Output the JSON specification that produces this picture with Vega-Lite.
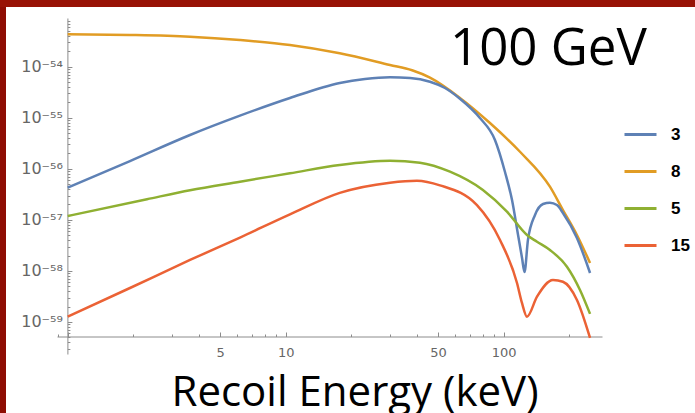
{
  "$schema": "https://vega.github.io/schema/vega-lite/v6.json",
  "background": "white",
  "padding": 0,
  "spacing": 0,
  "bounds": "flush",
  "config": {"view": {"stroke": null}},
  "datasets": {
    "curves": [
      {"E": 1, "rate": 4.31e-54, "m": "8"},
      {"E": 1.93, "rate": 4.18e-54, "m": "8"},
      {"E": 3.64, "rate": 3.87e-54, "m": "8"},
      {"E": 6.17, "rate": 3.33e-54, "m": "8"},
      {"E": 10.46, "rate": 2.66e-54, "m": "8"},
      {"E": 17.7, "rate": 1.83e-54, "m": "8"},
      {"E": 30.1, "rate": 1.08e-54, "m": "8"},
      {"E": 38.0, "rate": 8.5e-55, "m": "8"},
      {"E": 45.9, "rate": 6.1e-55, "m": "8"},
      {"E": 63.0, "rate": 2.45e-55, "m": "8"},
      {"E": 86.5, "rate": 7.89e-56, "m": "8"},
      {"E": 118.8, "rate": 2.16e-56, "m": "8"},
      {"E": 163, "rate": 4.47e-57, "m": "8"},
      {"E": 187, "rate": 1.56e-57, "m": "8"},
      {"E": 216.8, "rate": 5.06e-58, "m": "8"},
      {"E": 249, "rate": 1.43e-58, "m": "8"},

      {"E": 1, "rate": 4.27e-57, "m": "3"},
      {"E": 1.93, "rate": 1.42e-56, "m": "3"},
      {"E": 3.64, "rate": 4.60e-56, "m": "3"},
      {"E": 6.17, "rate": 1.10e-55, "m": "3"},
      {"E": 10.46, "rate": 2.44e-55, "m": "3"},
      {"E": 17.7, "rate": 4.80e-55, "m": "3"},
      {"E": 23.1, "rate": 5.74e-55, "m": "3"},
      {"E": 30.1, "rate": 6.20e-55, "m": "3"},
      {"E": 37.2, "rate": 6.01e-55, "m": "3"},
      {"E": 45.9, "rate": 5.08e-55, "m": "3"},
      {"E": 53.8, "rate": 3.83e-55, "m": "3"},
      {"E": 63.0, "rate": 2.36e-55, "m": "3"},
      {"E": 77.8, "rate": 9.89e-56, "m": "3"},
      {"E": 91.2, "rate": 3.67e-56, "m": "3"},
      {"E": 101.4, "rate": 8.67e-57, "m": "3"},
      {"E": 109.2, "rate": 2.45e-57, "m": "3"},
      {"E": 116.4, "rate": 5.05e-58, "m": "3"},
      {"E": 121.4, "rate": 1.79e-58, "m": "3"},
      {"E": 124.6, "rate": 9.5e-59, "m": "3"},
      {"E": 129.2, "rate": 4.04e-58, "m": "3"},
      {"E": 139.2, "rate": 1.25e-57, "m": "3"},
      {"E": 151.5, "rate": 2.05e-57, "m": "3"},
      {"E": 163, "rate": 2.17e-57, "m": "3"},
      {"E": 175.5, "rate": 1.95e-57, "m": "3"},
      {"E": 187, "rate": 1.36e-57, "m": "3"},
      {"E": 216.8, "rate": 4.42e-58, "m": "3"},
      {"E": 249, "rate": 9.12e-59, "m": "3"},

      {"E": 1, "rate": 1.19e-57, "m": "5"},
      {"E": 2.31, "rate": 2.54e-57, "m": "5"},
      {"E": 3.64, "rate": 3.81e-57, "m": "5"},
      {"E": 6.17, "rate": 5.60e-57, "m": "5"},
      {"E": 10.46, "rate": 8.17e-57, "m": "5"},
      {"E": 17.7, "rate": 1.19e-56, "m": "5"},
      {"E": 30.1, "rate": 1.44e-56, "m": "5"},
      {"E": 41.3, "rate": 1.32e-56, "m": "5"},
      {"E": 56.7, "rate": 8.79e-57, "m": "5"},
      {"E": 80.3, "rate": 3.85e-57, "m": "5"},
      {"E": 103.5, "rate": 1.45e-57, "m": "5"},
      {"E": 127.9, "rate": 5.06e-58, "m": "5"},
      {"E": 142.2, "rate": 3.73e-58, "m": "5"},
      {"E": 163, "rate": 2.57e-58, "m": "5"},
      {"E": 195.1, "rate": 1.21e-58, "m": "5"},
      {"E": 223.9, "rate": 4.24e-59, "m": "5"},
      {"E": 249, "rate": 1.44e-59, "m": "5"},

      {"E": 1, "rate": 1.27e-59, "m": "15"},
      {"E": 1.93, "rate": 4.63e-59, "m": "15"},
      {"E": 3.64, "rate": 1.64e-58, "m": "15"},
      {"E": 6.17, "rate": 4.5e-58, "m": "15"},
      {"E": 10.46, "rate": 1.28e-57, "m": "15"},
      {"E": 17.7, "rate": 3.38e-57, "m": "15"},
      {"E": 30.1, "rate": 5.35e-57, "m": "15"},
      {"E": 40.0, "rate": 5.85e-57, "m": "15"},
      {"E": 51.0, "rate": 4.75e-57, "m": "15"},
      {"E": 75.4, "rate": 1.95e-57, "m": "15"},
      {"E": 96.2, "rate": 4.04e-58, "m": "15"},
      {"E": 115.1, "rate": 5.81e-59, "m": "15"},
      {"E": 121.4, "rate": 2.33e-59, "m": "15"},
      {"E": 127.9, "rate": 1.27e-59, "m": "15"},
      {"E": 142.2, "rate": 3.13e-59, "m": "15"},
      {"E": 168.3, "rate": 6.65e-59, "m": "15"},
      {"E": 187, "rate": 6.15e-59, "m": "15"},
      {"E": 216.8, "rate": 2.70e-59, "m": "15"},
      {"E": 249, "rate": 4.86e-60, "m": "15"}
    ]
  },
  "vconcat": [
    {
      "width": 695, "height": 7, "data": {"values": []}, "mark": "point",
      "view": {"fill": "#981205", "stroke": null},
      "title": {"text": "100 GeV", "font": "Open Sans", "fontSize": 51, "fontWeight": "normal", "color": "black", "anchor": "start", "frame": "group", "orient": "bottom", "offset": 18, "dx": 450, "baseline": "top"}
    },
    {
      "bounds": "flush",
      "spacing": 51,
      "hconcat": [
        {"width": 6, "height": 406, "data": {"values": []}, "mark": "point", "view": {"fill": "#8e0d03", "stroke": null}},
        {
          "bounds": "flush",
          "spacing": 10,
          "vconcat": [
            {"width": 545, "height": 1, "data": {"values": []}, "mark": "point"},
            {
              "width": 545,
              "height": 336,
              "data": {"name": "curves"},
              "mark": {"type": "line", "interpolate": "monotone", "strokeWidth": 2.5},
              "encoding": {
                "x": {
                  "field": "E", "type": "quantitative",
                  "scale": {"type": "log", "domain": [0.893, 282.5], "nice": false},
                  "axis": {
                    "title": "Recoil Energy (keV)",
                    "offset": -17.5,
                    "values": [0.9, 1, 2, 3, 4, 5, 6, 7, 8, 9, 10, 20, 30, 40, 50, 60, 70, 80, 90, 100, 200],
                    "labelExpr": "(datum.value == 5 || datum.value == 10 || datum.value == 50 || datum.value == 100) ? '' + datum.value : ''",
                    "grid": false,
                    "domainColor": "#8c8c8c",
                    "tickColor": "#8c8c8c",
                    "tickWidth": 1,
                    "tickSize": {"condition": {"test": "datum.value == 1 || datum.value == 5 || datum.value == 10 || datum.value == 50 || datum.value == 100", "value": -4.5}, "value": -2.5},
                    "labelPadding": 14.5,
                    "labelFont": "DejaVu Sans",
                    "labelFontSize": 13,
                    "labelColor": "#666666",
                    "labelFlush": false,
                    "labelOverlap": false,
                    "titleFont": "Open Sans",
                    "titleFontSize": 42,
                    "titleFontWeight": "normal",
                    "titleColor": "black",
                    "titleX": 297.5,
                    "titleY": 69,
                    "titleBaseline": "alphabetic",
                    "titleAlign": "center"
                  }
                },
                "y": {
                  "field": "rate", "type": "quantitative",
                  "scale": {"type": "log", "domain": [2.36e-60, 8.99e-54], "nice": false},
                  "axis": {
                    "title": null,
                    "offset": -10.4,
                    "values": [3e-60, 4e-60, 5e-60, 6e-60, 7e-60, 8e-60, 9e-60,
                               1e-59, 2e-59, 3e-59, 4e-59, 5e-59, 6e-59, 7e-59, 8e-59, 9e-59,
                               1e-58, 2e-58, 3e-58, 4e-58, 5e-58, 6e-58, 7e-58, 8e-58, 9e-58,
                               1e-57, 2e-57, 3e-57, 4e-57, 5e-57, 6e-57, 7e-57, 8e-57, 9e-57,
                               1e-56, 2e-56, 3e-56, 4e-56, 5e-56, 6e-56, 7e-56, 8e-56, 9e-56,
                               1e-55, 2e-55, 3e-55, 4e-55, 5e-55, 6e-55, 7e-55, 8e-55, 9e-55,
                               1e-54, 2e-54, 3e-54, 4e-54, 5e-54, 6e-54, 7e-54, 8e-54],
                    "labelExpr": "abs(log(datum.value)/LN10 - round(log(datum.value)/LN10)) > 0.001 ? '' : round(log(datum.value)/LN10) == -54 ? '10⁻⁵⁴' : round(log(datum.value)/LN10) == -55 ? '10⁻⁵⁵' : round(log(datum.value)/LN10) == -56 ? '10⁻⁵⁶' : round(log(datum.value)/LN10) == -57 ? '10⁻⁵⁷' : round(log(datum.value)/LN10) == -58 ? '10⁻⁵⁸' : '10⁻⁵⁹'",
                    "grid": false,
                    "domainColor": "#8c8c8c",
                    "tickColor": "#8c8c8c",
                    "tickWidth": 1,
                    "tickSize": {"condition": {"test": "abs(log(datum.value)/LN10 - round(log(datum.value)/LN10)) < 0.001", "value": -4.5}, "value": -2.5},
                    "labelPadding": 9.5,
                    "labelFont": "DejaVu Sans",
                    "labelFontSize": 16,
                    "labelColor": "#666666",
                    "labelFlush": false,
                    "labelOverlap": false
                  }
                },
                "color": {
                  "field": "m", "type": "nominal",
                  "scale": {"domain": ["3", "8", "5", "15"], "range": ["#5E81B5", "#E19C24", "#8FB032", "#EB6235"]},
                  "legend": {
                    "title": null,
                    "orient": "none",
                    "legendX": 623,
                    "legendY": 117,
                    "symbolType": "stroke",
                    "symbolSize": 1024,
                    "symbolStrokeWidth": 3,
                    "labelFont": "Liberation Sans",
                    "labelFontWeight": "bold",
                    "labelFontSize": 17,
                    "labelColor": "black",
                    "labelOffset": 13,
                    "rowPadding": 11,
                    "padding": 0
                  }
                }
              }
            }
          ]
        }
      ]
    }
  ]
}
